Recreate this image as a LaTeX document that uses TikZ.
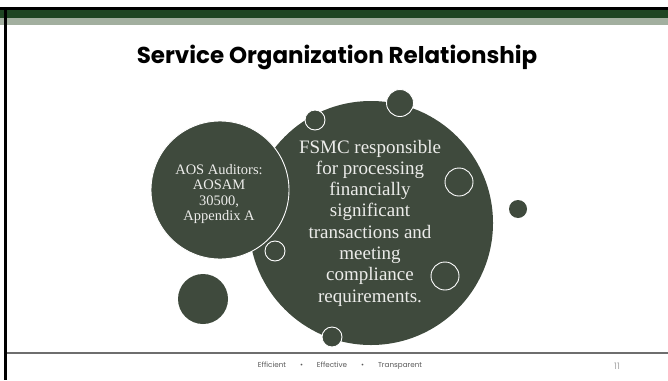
\documentclass[tikz,border=0pt]{standalone}
\usepackage{fontspec}
\setmainfont{Liberation Serif}
\newfontfamily\gothic{Poppins}
\definecolor{bubble}{HTML}{3F4A3D}
\definecolor{barGreen}{HTML}{1F4623}
\definecolor{barLight}{HTML}{A2AF9F}
\definecolor{footGray}{HTML}{6E6E6E}
\definecolor{inkLight}{HTML}{ECECEA}
\tikzset{
  bubblenode/.style={circle, fill=bubble, inner sep=0pt, minimum size=#1},
  ringed/.style={draw=white, line width=0.9pt},
  bubbletext/.style={text=inkLight, align=center, inner sep=0pt},
}
\begin{document}
\begin{tikzpicture}[x=1pt, y=-1pt]
  % page
  \fill[white] (0,0) rectangle (668,380);
  \useasboundingbox (0,0) rectangle (668,380);
  % header bands
  \fill[black] (0,7) rectangle (668,9.5);
  \fill[barGreen] (0,9.5) rectangle (668,18);
  \fill[barLight] (0,18) rectangle (668,25);
  % left edge rule
  \fill[black] (4,7) rectangle (7,380);
  % footer rule
  \fill[footGray] (7,352) rectangle (668,354.2);

  % title
  \node (title) at (337,57) {\gothic\bfseries\fontsize{23}{27}\selectfont Service Organization Relationship};

  % main bubble and companion bubble
  \node[bubblenode=244pt] (fsmc) at (371,223) {};
  \node[bubblenode=138pt, ringed] (aos) at (220,190) {};

  % small decorative bubbles
  \node[bubblenode=50pt] (dotLL) at (203,299) {};
  \node[bubblenode=20pt, ringed] (dotTL) at (315,120) {};
  \node[bubblenode=27pt, ringed] (dotTR) at (400,103) {};
  \node[bubblenode=28pt, ringed] (dotR) at (459,182) {};
  \node[bubblenode=18pt] (dotFar) at (518,209) {};
  \node[bubblenode=28pt, ringed] (dotLR) at (445,276) {};
  \node[bubblenode=20pt, ringed] (dotB) at (332,337) {};
  \node[bubblenode=20pt, ringed] (dotL) at (275,251) {};

  % bubble texts
  \node[bubbletext, font=\fontsize{14.5}{15.3}\selectfont] (aostext) at (219,194)
    {AOS Auditors:\\AOSAM\\30500,\\Appendix A};
  \node[bubbletext, font=\fontsize{19}{21.3}\selectfont] (fsmctext) at (370,223)
    {FSMC responsible\\for processing\\financially\\significant\\transactions and\\meeting\\compliance\\requirements.};

  % footer
  \node[text=footGray!80!black, font=\gothic\fontsize{7.2}{8}\selectfont] (foot) at (340,366)
    {Efficient\hspace{14pt}\textbullet\hspace{14pt}Effective\hspace{14pt}\textbullet\hspace{14pt}Transparent};
  \node[text=gray!70, font=\gothic\fontsize{9}{10}\selectfont] (pagenum) at (617,366) {11};
\end{tikzpicture}
\end{document}
